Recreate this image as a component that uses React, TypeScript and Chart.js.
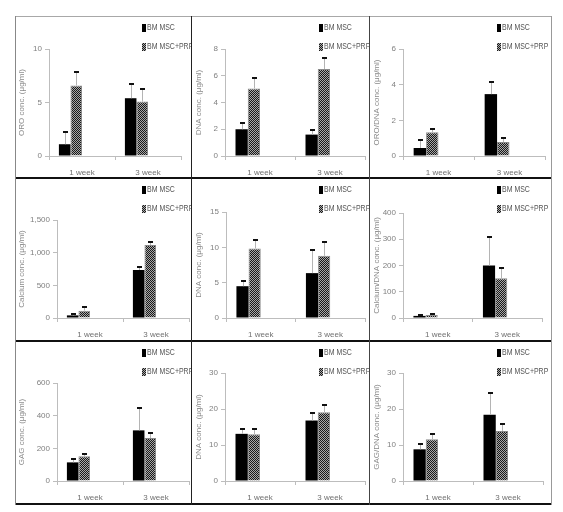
import React, { useEffect, useRef } from "react";
import { Chart, registerables } from "chart.js";
Chart.register(...registerables);

const categories = ["1 week", "3 week"];
const legendLabels = ["BM MSC", "BM MSC+PRP"];

// Row 1: adipogenic
const oroMsc = [1.1, 5.4];
const oroMscErr = [1.1, 1.3];
const oroPrp = [6.6, 5.1];
const oroPrpErr = [1.25, 1.2];

const dnaAdipoMsc = [2.0, 1.6];
const dnaAdipoMscErr = [0.5, 0.35];
const dnaAdipoPrp = [5.05, 6.5];
const dnaAdipoPrpErr = [0.8, 0.8];

const oroDnaMsc = [0.45, 3.47];
const oroDnaMscErr = [0.42, 0.68];
const oroDnaPrp = [1.33, 0.78];
const oroDnaPrpErr = [0.17, 0.22];

// Row 2: osteogenic
const calciumMsc = [40, 735];
const calciumMscErr = [15, 45];
const calciumPrp = [112, 1117];
const calciumPrpErr = [60, 45];

const dnaOsteoMsc = [4.5, 6.35];
const dnaOsteoMscErr = [0.7, 3.25];
const dnaOsteoPrp = [9.85, 8.8];
const dnaOsteoPrpErr = [1.15, 1.9];

const calDnaMsc = [8, 200];
const calDnaMscErr = [4, 109];
const calDnaPrp = [11, 151];
const calDnaPrpErr = [3, 38];

// Row 3: chondrogenic
const gagMsc = [114, 310];
const gagMscErr = [19, 137];
const gagPrp = [151, 263];
const gagPrpErr = [12, 33];

const dnaChondroMsc = [13.1, 16.8];
const dnaChondroMscErr = [1.3, 2.2];
const dnaChondroPrp = [13.0, 19.1];
const dnaChondroPrpErr = [1.4, 2.0];

const gagDnaMsc = [8.8, 18.4];
const gagDnaMscErr = [1.6, 6.0];
const gagDnaPrp = [11.6, 13.9];
const gagDnaPrpErr = [1.4, 1.9];

const yTitles = [
  "ORO conc. (μg/ml)",
  "DNA conc. (μg/ml)",
  "ORO/DNA conc. (μg/ml)",
  "Calcium conc. (μg/ml)",
  "DNA conc. (μg/ml)",
  "Calcium/DNA conc. (μg/ml)",
  "GAG conc. (μg/ml)",
  "DNA conc. (μg/ml)",
  "GAG/DNA conc. (μg/ml)",
];
const yMax = [10, 8, 6, 1500, 15, 400, 600, 30, 30];
const yStep = [5, 2, 2, 500, 5, 100, 200, 10, 10];

const series = [
  [oroMsc, oroMscErr, oroPrp, oroPrpErr],
  [dnaAdipoMsc, dnaAdipoMscErr, dnaAdipoPrp, dnaAdipoPrpErr],
  [oroDnaMsc, oroDnaMscErr, oroDnaPrp, oroDnaPrpErr],
  [calciumMsc, calciumMscErr, calciumPrp, calciumPrpErr],
  [dnaOsteoMsc, dnaOsteoMscErr, dnaOsteoPrp, dnaOsteoPrpErr],
  [calDnaMsc, calDnaMscErr, calDnaPrp, calDnaPrpErr],
  [gagMsc, gagMscErr, gagPrp, gagPrpErr],
  [dnaChondroMsc, dnaChondroMscErr, dnaChondroPrp, dnaChondroPrpErr],
  [gagDnaMsc, gagDnaMscErr, gagDnaPrp, gagDnaPrpErr],
];

// layout (absolute page pixels)
const colX = [15, 192, 370];
const colW = [177, 178, 181];
const rowY = [17, 179, 342];
const rowH = [161, 162, 162];
// chart areas: left, right, top, bottom
const areas = [
  [49, 181, 49, 156],
  [225, 365, 49, 156],
  [403, 545, 49, 156],
  [57, 189, 220, 318],
  [226, 365, 212, 318],
  [403, 542, 213, 318],
  [57, 189, 383, 481],
  [225, 365, 373, 481],
  [403, 543, 373, 481],
];

const FONT = "Arial, 'Liberation Sans', sans-serif";

const errorBarPlugin = {
  id: "errbars",
  afterDatasetsDraw(chart: any) {
    const ctx = chart.ctx;
    const yScale = chart.scales.y;
    chart.data.datasets.forEach((ds: any, i: number) => {
      const errs = ds.errors;
      if (!errs) return;
      const meta = chart.getDatasetMeta(i);
      meta.data.forEach((bar: any, j: number) => {
        const v = ds.data[j];
        if (v == null) return;
        const x = Math.round(bar.x);
        const y0 = bar.y;
        const y1 = Math.round(yScale.getPixelForValue(v + errs[j]));
        ctx.save();
        ctx.strokeStyle = "#b4b4b4";
        ctx.lineWidth = 1;
        ctx.beginPath();
        ctx.moveTo(x + 0.5, y0);
        ctx.lineTo(x + 0.5, y1);
        ctx.stroke();
        ctx.fillStyle = "#111";
        ctx.fillRect(x - 2, y1 - 1, 5, 2);
        ctx.restore();
      });
    });
  },
};

const boxLegendPlugin = {
  id: "boxlegend",
  afterDraw(chart: any, _args: any, opts: any) {
    const ctx = chart.ctx;
    let k = 0;
    chart.data.datasets.forEach((ds: any) => {
      if (!ds.label) return;
      const y = opts.y + k * opts.gap;
      ctx.save();
      ctx.fillStyle = ds.backgroundColor;
      ctx.fillRect(opts.x, y - 4, 4, 8);
      ctx.translate(opts.x + 5, y);
      ctx.scale(0.82, 1);
      ctx.fillStyle = "#555";
      ctx.font = `8.5px ${FONT}`;
      ctx.textBaseline = "middle";
      ctx.textAlign = "left";
      ctx.fillText(ds.label, 0, 0);
      ctx.restore();
      k++;
    });
  },
};

function makePattern(ctx: CanvasRenderingContext2D) {
  const c = document.createElement("canvas");
  c.width = 4;
  c.height = 4;
  const g = c.getContext("2d")!;
  g.fillStyle = "#a8a8a8";
  g.fillRect(0, 0, 4, 4);
  g.fillStyle = "#1a1a1a";
  for (let y = 0; y < 4; y++)
    for (let x = 0; x < 4; x++) if ((x + y) % 2 === 0) g.fillRect(x, y, 1, 1);
  return ctx.createPattern(c, "repeat")!;
}

function Panel({ idx }: { idx: number }) {
  const ref = useRef<HTMLCanvasElement>(null);
  const r = Math.floor(idx / 3);
  const c = idx % 3;
  const x0 = colX[c];
  const y0 = rowY[r];
  const w = colW[c];
  const h = rowH[r];
  const [aL, aR, aT, aB] = areas[idx];

  useEffect(() => {
    const canvas = ref.current!;
    const ctx = canvas.getContext("2d")!;
    const pattern = makePattern(ctx);
    const [msc, mscErr, prp, prpErr] = series[idx];
    const chart = new Chart(canvas, {
      type: "bar",
      data: {
        labels: categories,
        datasets: [
          {
            label: legendLabels[0],
            data: msc,
            errors: mscErr,
            backgroundColor: "#000",
            borderWidth: 0,
          } as any,
          {
            label: legendLabels[1],
            data: prp,
            errors: prpErr,
            backgroundColor: pattern,
            borderColor: "#8a8a8a",
            borderWidth: 1,
          } as any,
          { label: "", data: [null, null] },
          { label: "", data: [null, null] },
        ],
      },
      options: {
        animation: false,
        responsive: false,
        maintainAspectRatio: false,
        locale: "en-US",
        datasets: { bar: { categoryPercentage: 0.7, barPercentage: 1 } },
        layout: { padding: { top: aT - y0, right: x0 + w - aR, left: 0, bottom: 0 } },
        plugins: {
          legend: { display: false },
          tooltip: { enabled: false },
          boxlegend: { x: 127, y: 11, gap: 19 },
        } as any,
        scales: {
          x: {
            offset: true,
            grid: {
              offset: true,
              drawOnChartArea: false,
              drawTicks: true,
              tickLength: 4,
              color: "#bdbdbd",
            },
            border: { color: "#bdbdbd" },
            ticks: { color: "#707070", font: { size: 8, family: FONT }, padding: 8 },
            afterFit: (s: any) => {
              s.height = y0 + h - aB;
            },
          },
          y: {
            min: 0,
            max: yMax[idx],
            grid: {
              drawOnChartArea: false,
              drawTicks: true,
              tickLength: 4,
              color: "#bdbdbd",
            },
            border: { color: "#bdbdbd" },
            ticks: {
              stepSize: yStep[idx],
              color: "#808080",
              font: { size: 8, family: FONT },
              padding: 3,
            },
            title: {
              display: true,
              text: yTitles[idx],
              color: "#8a8a8a",
              font: { size: 8, family: FONT },
              padding: { top: 2, bottom: 0 },
            },
            afterFit: (s: any) => {
              s.width = aL - x0;
            },
          },
        },
      },
      plugins: [errorBarPlugin, boxLegendPlugin],
    });
    return () => chart.destroy();
  }, [idx]);

  return (
    <canvas
      ref={ref}
      width={w}
      height={h}
      style={{ position: "absolute", left: x0, top: y0, width: w, height: h }}
    />
  );
}

function Line({ x, y, w, h, color }: { x: number; y: number; w: number; h: number; color: string }) {
  return <div style={{ position: "absolute", left: x, top: y, width: w, height: h, background: color }} />;
}

export default function App() {
  return (
    <div
      style={{
        position: "fixed",
        left: 0,
        top: 0,
        width: 563,
        height: 512,
        background: "#fff",
        overflow: "hidden",
      }}
    >
      {Array.from({ length: 9 }, (_, i) => (
        <Panel key={i} idx={i} />
      ))}
      <Line x={15} y={16} w={537} h={1} color="#a8a8a8" />
      <Line x={15} y={177} w={537} h={2} color="#111" />
      <Line x={15} y={340} w={537} h={2} color="#111" />
      <Line x={15} y={503} w={537} h={2} color="#111" />
      <Line x={15} y={16} w={1} h={489} color="#888" />
      <Line x={191} y={16} w={1} h={489} color="#222" />
      <Line x={369} y={16} w={1} h={489} color="#444" />
      <Line x={551} y={16} w={1} h={489} color="#999" />
    </div>
  );
}
